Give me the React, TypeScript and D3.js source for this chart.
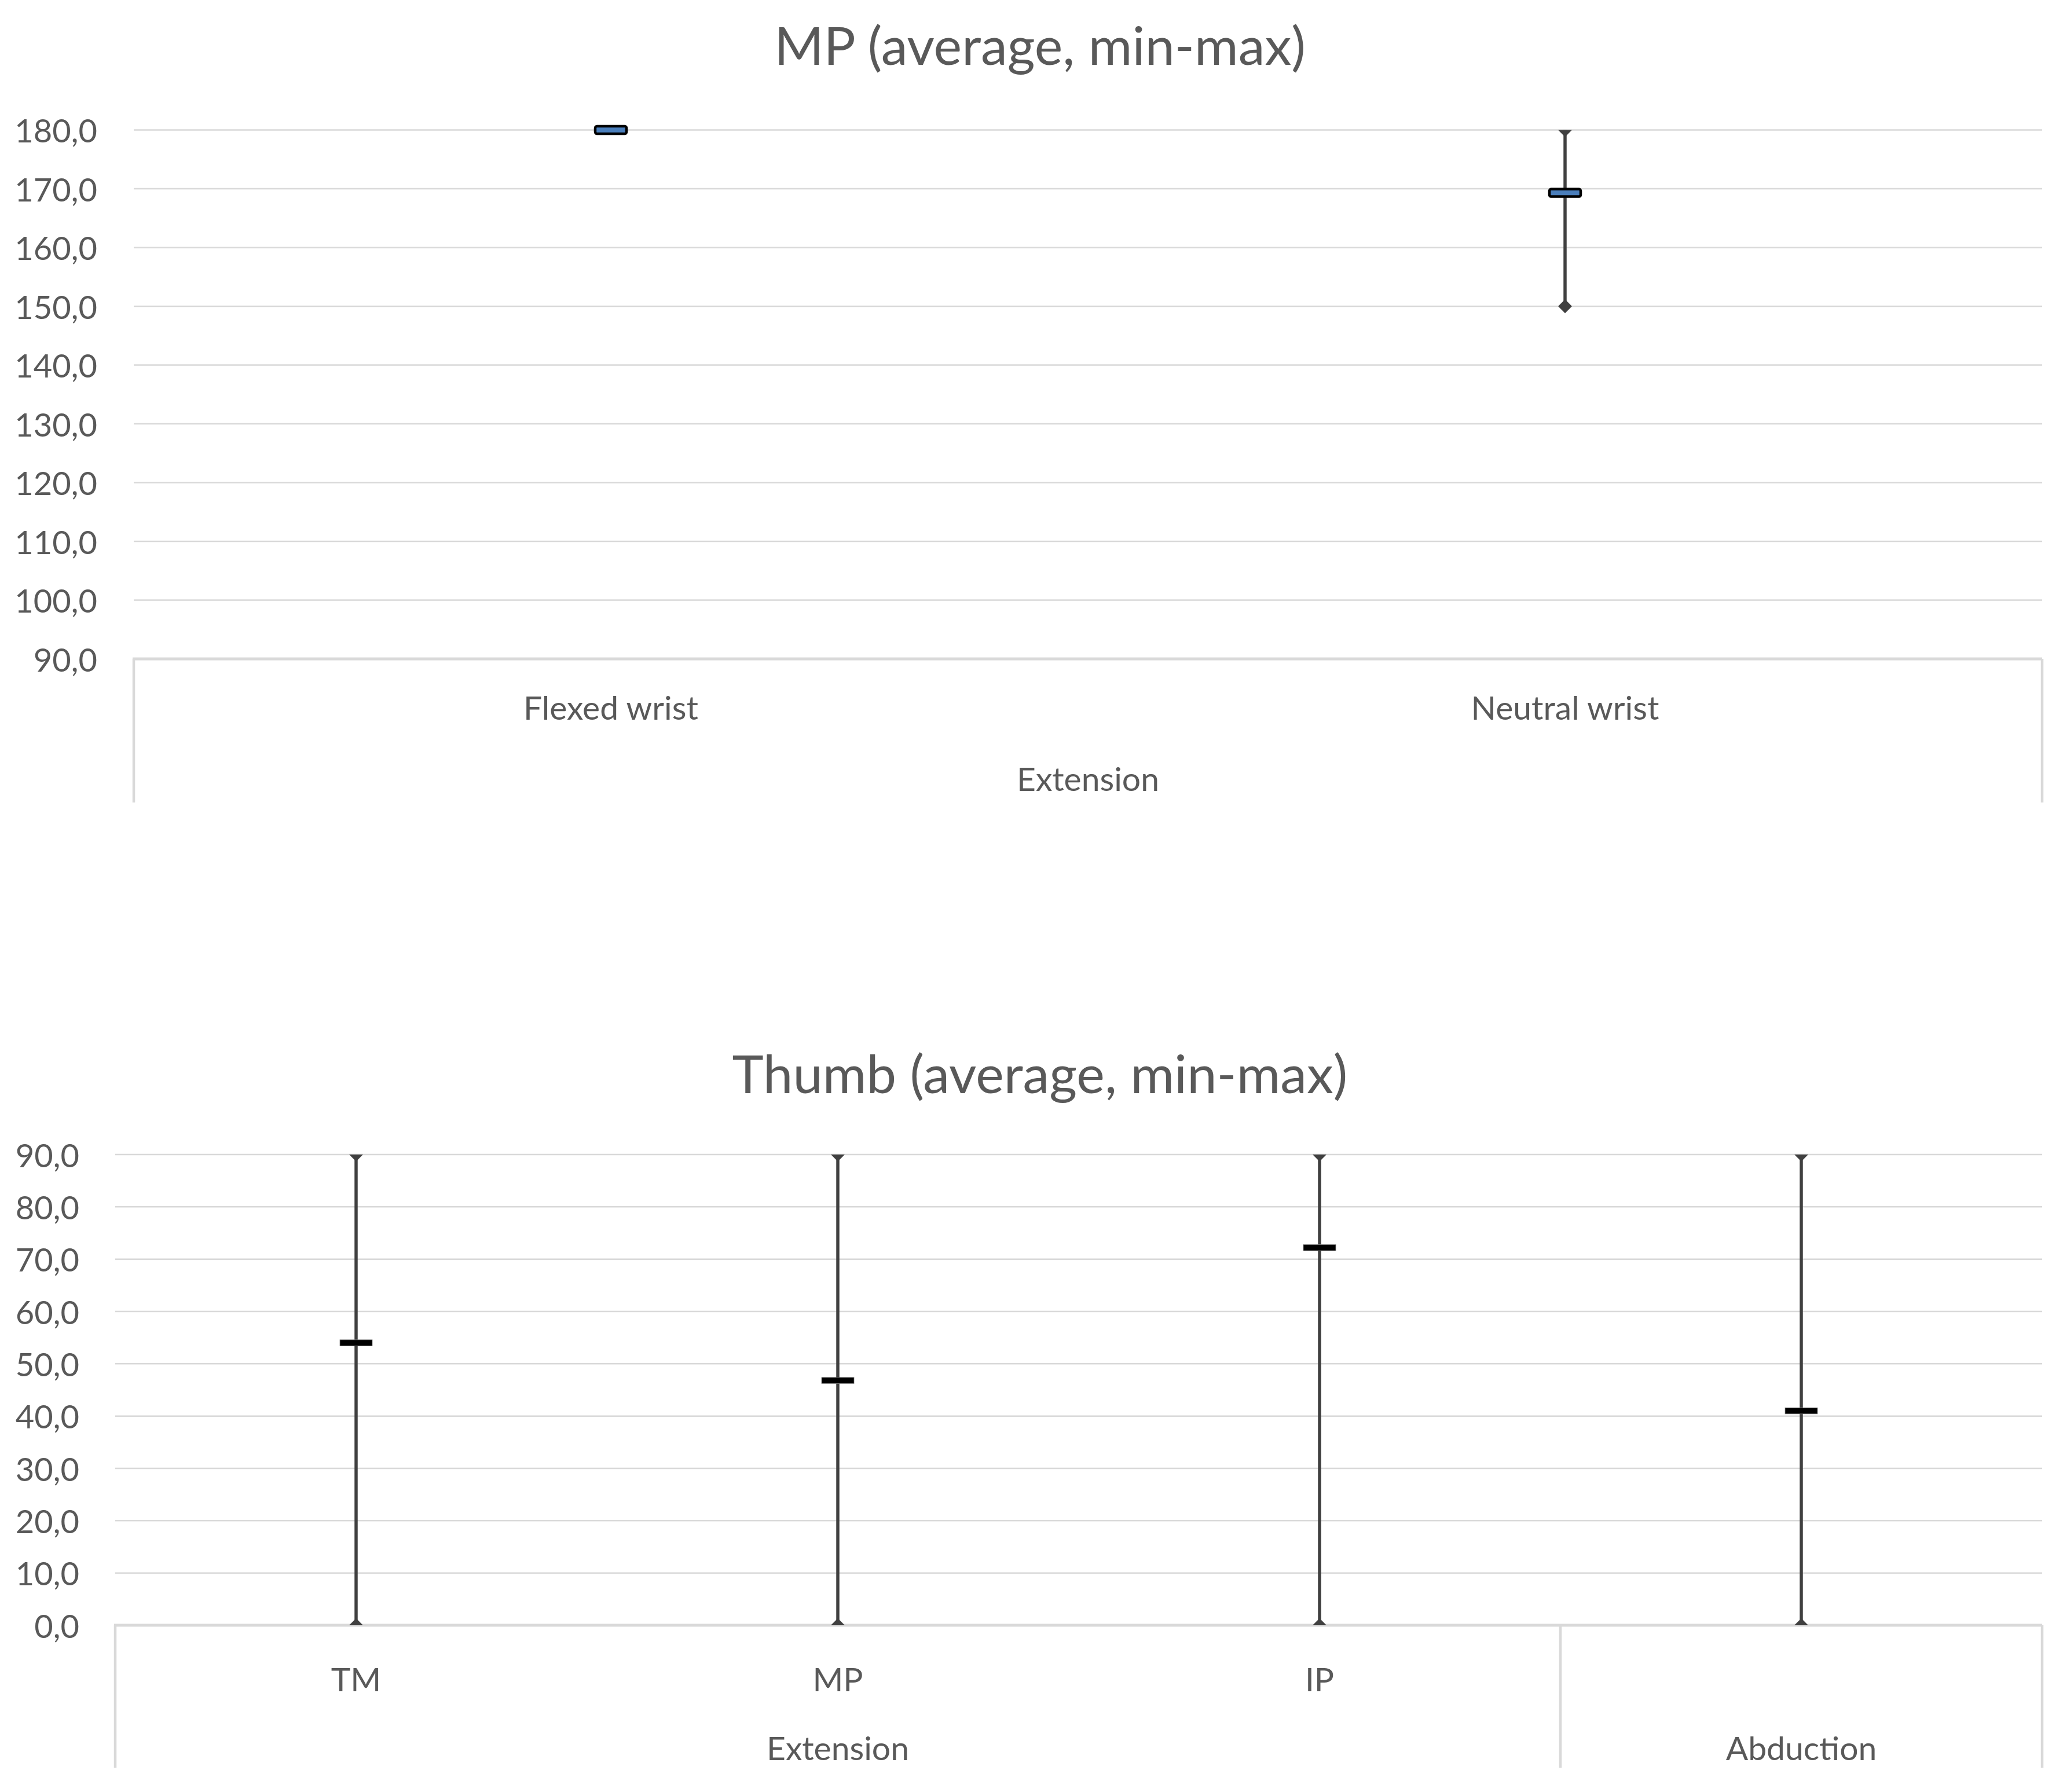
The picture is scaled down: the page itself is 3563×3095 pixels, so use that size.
import React from "react";
import * as d3 from "d3";

// ---------- Data ----------
const mpTitle = "MP (average, min-max)";
const mpCategories = ["Flexed wrist", "Neutral wrist"];
const mpGroups = ["Extension", "Extension"];
const mpAvg = [180, 169.3];
const mpMin = [180, 150];
const mpMax = [180, 180];
const mpTicks = [90, 100, 110, 120, 130, 140, 150, 160, 170, 180];

const thumbTitle = "Thumb (average, min-max)";
const thumbCategories = ["TM", "MP", "IP", ""];
const thumbGroups = ["Extension", "Extension", "Extension", "Abduction"];
const thumbAvg = [54.0, 46.8, 72.2, 41.0];
const thumbMin = [0, 0, 0, 0];
const thumbMax = [90, 90, 90, 90];
const thumbTicks = [0, 10, 20, 30, 40, 50, 60, 70, 80, 90];

const FONT = "Lato, 'Open Sans', 'DejaVu Sans', sans-serif";
const TEXT = "#595959";
const GRID = "#d9d9d9";
const BAR = "#404040";

const fmt = (v: number) => d3.format(".1f")(v).replace(".", ",");

type ChartProps = {
  id: string;
  title: string;
  titleY: number;
  categories: string[];
  groups: string[];
  avg: number[];
  min: number[];
  max: number[];
  ticks: number[];
  left: number;
  right: number;
  top: number;
  bottom: number;
  tickRight: number;
  innerY: number;
  outerY: number;
  boxBottom: number;
  markerStyle: "blue" | "black";
};

function Chart(p: ChartProps) {
  const idx = p.categories.map((_, i) => String(i));
  const x = d3.scaleBand<string>().domain(idx).range([p.left, p.right]).padding(0);
  const y = d3
    .scaleLinear()
    .domain([d3.min(p.ticks) as number, d3.max(p.ticks) as number])
    .range([p.bottom, p.top]);
  const bw = x.bandwidth();
  const diamond = d3.symbol().type(d3.symbolDiamond2).size(27 * 27 / 2);

  // group spans for the outer level
  const spans: { name: string; start: number; end: number }[] = [];
  p.groups.forEach((g, i) => {
    const last = spans[spans.length - 1];
    if (last && last.name === g) last.end = i;
    else spans.push({ name: g, start: i, end: i });
  });

  const clipId = `clip-${p.id}`;
  const centerX = 1796;

  return (
    <g>
      <defs>
        <clipPath id={clipId}>
          <rect x={p.left - 40} y={p.top} width={p.right - p.left + 80} height={p.bottom - p.top} />
        </clipPath>
      </defs>
      <text
        x={centerX}
        y={p.titleY}
        textAnchor="middle"
        dominantBaseline="central"
        fontFamily={FONT}
        fontSize={92}
        fill={TEXT}
      >
        {p.title}
      </text>
      {/* gridlines */}
      {p.ticks.slice(1).map((t) => (
        <line key={`g${t}`} x1={p.left} x2={p.right} y1={y(t)} y2={y(t)} stroke={GRID} strokeWidth={2.5} />
      ))}
      {/* tick labels */}
      {p.ticks.map((t) => (
        <text
          key={`t${t}`}
          x={p.tickRight}
          y={y(t)}
          textAnchor="end"
          dominantBaseline="central"
          fontFamily={FONT}
          fontSize={56}
          fill={TEXT}
        >
          {fmt(t)}
        </text>
      ))}
      {/* category axis box */}
      <line x1={p.left - 2} x2={p.right} y1={p.bottom} y2={p.bottom} stroke={GRID} strokeWidth={5} />
      {[...new Set([p.left, ...spans.map((s) => (x(String(s.end)) as number) + bw)])].map((vx, i) => (
        <line key={`v${i}`} x1={vx} x2={vx} y1={p.bottom} y2={p.boxBottom} stroke={GRID} strokeWidth={4.5} />
      ))}
      {/* inner labels */}
      {p.categories.map((c, i) => (
        <text
          key={`c${i}`}
          x={(x(String(i)) as number) + bw / 2}
          y={p.innerY}
          textAnchor="middle"
          dominantBaseline="central"
          fontFamily={FONT}
          fontSize={57}
          fill={TEXT}
        >
          {c}
        </text>
      ))}
      {/* outer labels */}
      {spans.map((s, i) => (
        <text
          key={`o${i}`}
          x={((x(String(s.start)) as number) + (x(String(s.end)) as number) + bw) / 2}
          y={p.outerY}
          textAnchor="middle"
          dominantBaseline="central"
          fontFamily={FONT}
          fontSize={57}
          fill={TEXT}
        >
          {s.name}
        </text>
      ))}
      {/* high-low lines + markers */}
      <g clipPath={`url(#${clipId})`}>
        {p.categories.map((_, i) => {
          const cx = (x(String(i)) as number) + bw / 2;
          if (p.min[i] === p.max[i]) return null;
          return (
            <g key={`hl${i}`}>
              <line x1={cx} x2={cx} y1={y(p.max[i])} y2={y(p.min[i])} stroke={BAR} strokeWidth={5.5} />
              <path d={diamond() as string} transform={`translate(${cx},${y(p.max[i])})`} fill={BAR} />
              <path d={diamond() as string} transform={`translate(${cx},${y(p.min[i])})`} fill={BAR} />
            </g>
          );
        })}
      </g>
      {p.categories.map((_, i) => {
        const cx = (x(String(i)) as number) + bw / 2;
        const cy = y(p.avg[i]);
        return p.markerStyle === "blue" ? (
          <rect
            key={`a${i}`}
            x={cx - 27}
            y={cy - 6.5}
            width={54}
            height={13}
            rx={3}
            fill="#4a7ebb"
            stroke="#000"
            strokeWidth={4.5}
          />
        ) : (
          <rect
            key={`a${i}`}
            x={cx - 28}
            y={cy - 5.3}
            width={56}
            height={10.6}
            fill="#000"
            stroke="#888"
            strokeWidth={0.8}
          />
        );
      })}
    </g>
  );
}

export default function App() {
  return (
    <svg
      width={3563}
      height={3095}
      style={{ position: "absolute", left: 0, top: 0, background: "#fff" }}
      xmlns="http://www.w3.org/2000/svg"
    >
      <rect x={0} y={0} width={3563} height={3095} fill="#fff" />
      <Chart
        id="mp"
        title={mpTitle}
        titleY={76}
        categories={mpCategories}
        groups={mpGroups}
        avg={mpAvg}
        min={mpMin}
        max={mpMax}
        ticks={mpTicks}
        left={231}
        right={3527}
        top={224.5}
        bottom={1138}
        tickRight={168}
        innerY={1221}
        outerY={1344}
        boxBottom={1386}
        markerStyle="blue"
      />
      <Chart
        id="thumb"
        title={thumbTitle}
        titleY={1852}
        categories={thumbCategories}
        groups={thumbGroups}
        avg={thumbAvg}
        min={thumbMin}
        max={thumbMax}
        ticks={thumbTicks}
        left={199}
        right={3527}
        top={1994}
        bottom={2807}
        tickRight={137}
        innerY={2899}
        outerY={3018}
        boxBottom={3053}
        markerStyle="black"
      />
    </svg>
  );
}
